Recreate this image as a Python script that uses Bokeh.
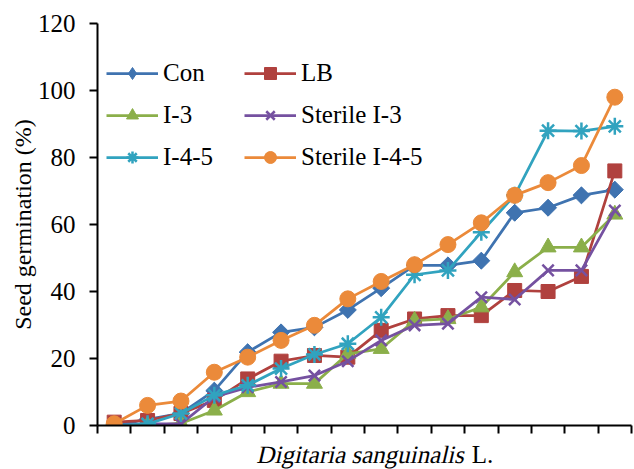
from bokeh.plotting import figure
from bokeh.models import Range1d, FixedTicker, Legend, LegendItem, Div
from bokeh.layouts import column
from bokeh.embed import file_html
from bokeh.resources import INLINE
import math

x = list(range(1, 17))
con = [0, 1.8, 3.6, 10.4, 21.9, 27.8, 29.3, 34.5, 41, 47.8, 47.8, 49.2, 63.5, 65, 68.7, 70.4]
lb = [1, 1.5, 3.6, 7.5, 13.9, 19.2, 20.9, 20.4, 28.4, 31.8, 32.8, 32.8, 40.3, 40, 44.5, 76]
i3 = [0, 0, 0.6, 4.5, 10, 12.5, 12.5, 21.4, 22.9, 31.3, 31.8, 35.3, 45.8, 53.2, 53.2, 63]
st_i3 = [0, 0.5, 0.5, 8.5, 11.4, 13, 14.9, 19.2, 25.4, 29.9, 30.4, 38.3, 37.6, 46.3, 46.3, 64.2]
i45 = [0, 0.5, 3.6, 9, 12, 17, 21.2, 24.4, 32.3, 45, 46.3, 57.7, 68.7, 88, 87.9, 89.3]
st_i45 = [0.5, 6, 7.3, 15.9, 20.4, 25.4, 29.9, 37.8, 43, 48, 54, 60.5, 68.7, 72.5, 77.6, 98]

names = ["Con", "LB", "I-3", "Sterile I-3", "I-4-5", "Sterile I-4-5"]
y_ticks = [0, 20, 40, 60, 80, 100, 120]
FONT = "Liberation Serif"

p = figure(width=634, height=441, output_backend="svg", toolbar_location=None,
           x_range=Range1d(0.5, 16.5), y_range=Range1d(0, 120),
           min_border_left=97, min_border_right=3, min_border_top=23, min_border_bottom=16)
p.outline_line_color = None
p.grid.visible = False
p.background_fill_color = "white"

series = [
    (con, "#3F73B0", "square", 12, math.pi / 4),
    (lb, "#B0413E", "square", 14, 0),
    (i3, "#8BAF4A", "triangle", 16, 0),
    (st_i3, "#7551A0", "x", 16, 0),
    (i45, "#31A3BF", "asterisk", 17, 0),
    (st_i45, "#EB8A3A", "circle", 16, 0),
]

rends = []
for k, (ys, col, mk, sz, ang) in enumerate(series):
    l = p.line(x, ys, line_color=col, line_width=2.75)
    leg = None
    if k == 0:
        # diamond used for the legend swatch, hidden beneath the rotated squares
        leg = p.scatter(x, ys, marker="diamond", size=16, fill_color=col, line_color=col)
    if mk in ("x", "asterisk"):
        s = p.scatter(x, ys, marker=mk, size=sz, line_color=col, line_width=2.5)
    else:
        s = p.scatter(x, ys, marker=mk, size=sz, fill_color=col, line_color=col, angle=ang)
    rends.append([l, leg if leg is not None else s])

for ax in (p.xaxis[0], p.yaxis[0]):
    ax.axis_line_width = 2
    ax.axis_line_color = "black"
    ax.major_tick_line_width = 2
    ax.major_tick_line_color = "black"
    ax.major_tick_in = 0
    ax.major_tick_out = 8
    ax.minor_tick_line_color = None

x_ticks = [i + 0.5 for i in range(0, 17)]
p.xaxis.ticker = FixedTicker(ticks=x_ticks)
p.xaxis.major_label_overrides = {t: "" for t in x_ticks}
p.yaxis.ticker = FixedTicker(ticks=y_ticks)
p.yaxis.major_label_text_font = FONT
p.yaxis.major_label_text_font_size = "25px"
p.yaxis.major_label_text_color = "black"
p.yaxis.major_label_standoff = 14
p.yaxis.axis_label = "Seed germination (%)"
p.yaxis.axis_label_text_font = FONT
p.yaxis.axis_label_text_font_size = "24px"
p.yaxis.axis_label_text_font_style = "normal"
p.yaxis.axis_label_text_color = "black"
p.yaxis.axis_label_standoff = -1

def mk_legend(idx, xloc):
    items = [LegendItem(label=names[i], renderers=rends[i]) for i in idx]
    return Legend(items=items, location=(xloc, 253), padding=0, margin=0,
                  spacing=12, glyph_width=52, glyph_height=30, label_standoff=5,
                  label_text_font=FONT, label_text_font_size="25px", label_text_color="black",
                  border_line_color=None, background_fill_alpha=0)

p.add_layout(mk_legend([0, 2, 4], 9), "center")
p.add_layout(mk_legend([1, 3, 5], 147), "center")

xlabel = Div(text='<span style="display:inline-block; transform:skewX(-13deg);">Digitaria sanguinalis</span> L.',
             width=634, height=28, margin=0,
             styles={"font-family": FONT, "font-size": "25px", "line-height": "28px",
                     "color": "black", "padding-left": "258px", "white-space": "nowrap"})

open("out.html", "w").write(file_html(column(p, xlabel, spacing=0), INLINE))
